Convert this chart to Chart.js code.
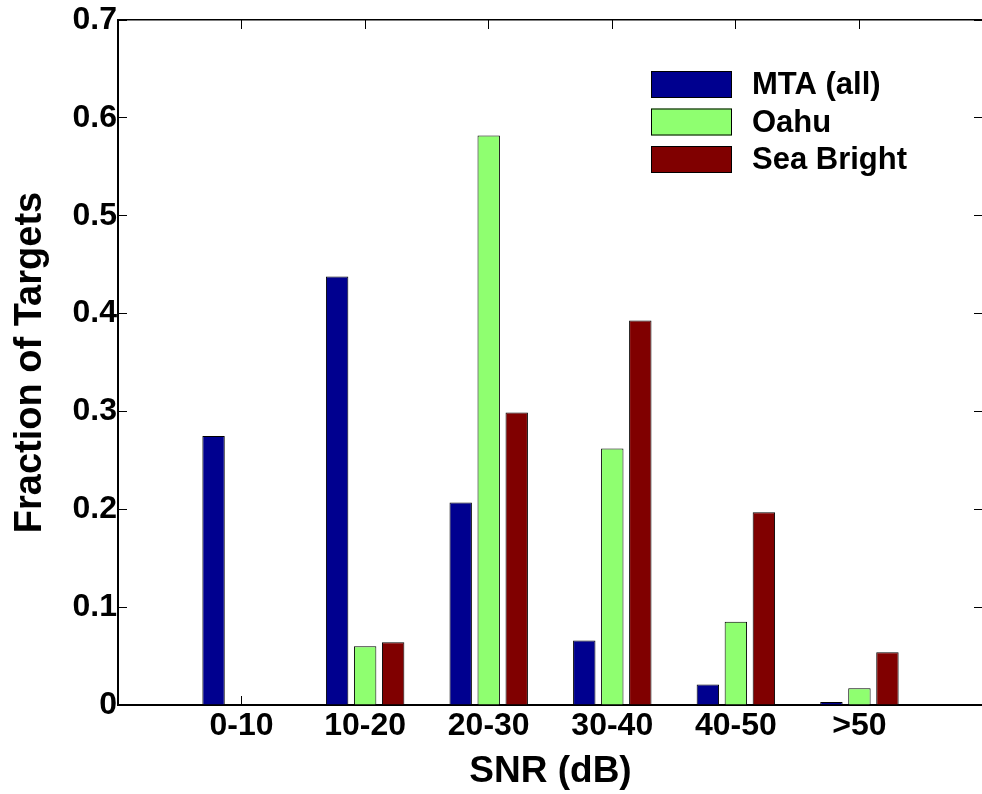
<!DOCTYPE html>
<html>
<head>
<meta charset="utf-8">
<script src="https://cdn.jsdelivr.net/npm/chart.js@4/dist/chart.umd.min.js"></script>
<style>
  html, body { margin: 0; padding: 0; background: #fff; overflow: hidden; }
  #wrap { width: 990px; height: 794px; }
</style>
</head>
<body>
<div id="wrap"><canvas id="c" width="990" height="794"></canvas></div>
<script>
const categories = ['0-10', '10-20', '20-30', '30-40', '40-50', '>50'];
const mtaAll     = [0.275, 0.438, 0.207, 0.066, 0.021, 0.003];
const oahu       = [0,     0.060, 0.582, 0.262, 0.085, 0.017];
const seaBright  = [0,     0.064, 0.299, 0.393, 0.197, 0.054];
const yTicks     = [0, 0.1, 0.2, 0.3, 0.4, 0.5, 0.6, 0.7];

const seriesNames  = ['MTA (all)', 'Oahu', 'Sea Bright'];
const seriesColors = ['#00008f', '#8fff70', '#800000'];
const seriesValues = [mtaAll, oahu, seaBright];

const FONT = '"Liberation Sans", Arial, Helvetica, sans-serif';

const datasets = seriesValues.map((vals, s) => ({
  label: seriesNames[s],
  data: vals.map((v, i) => ({ x: i + 1, y: v })),
  backgroundColor: seriesColors[s],
  borderColor: '#000',
  borderWidth: 1,
  categoryPercentage: 0.68,
  barPercentage: 0.8,
  xAxisID: 'x',
  yAxisID: 'y'
}));

const legendPlugin = {
  id: 'boxLegend',
  afterDraw(chart) {
    const ctx = chart.ctx;
    ctx.save();
    const bx = 651, bw = 81, bh = 27, tops = [71, 108.5, 146];
    chart.data.datasets.forEach((ds, i) => {
      const y = tops[i];
      ctx.fillStyle = ds.backgroundColor;
      ctx.fillRect(bx, y, bw, bh);
      ctx.strokeStyle = '#000';
      ctx.lineWidth = 1;
      ctx.strokeRect(bx + 0.5, y + 0.5, bw - 1, bh - 1);
      ctx.fillStyle = '#000';
      ctx.font = 'bold 31px ' + FONT;
      ctx.textBaseline = 'middle';
      ctx.textAlign = 'left';
      ctx.fillText(ds.label, 752, y + bh / 2 + 1);
    });
    ctx.restore();
  }
};

function noPad(scale) {
  scale.paddingTop = 0; scale.paddingBottom = 0;
  scale.paddingLeft = 0; scale.paddingRight = 0;
}

new Chart(document.getElementById('c'), {
  type: 'bar',
  data: { datasets },
  plugins: [legendPlugin],
  options: {
    responsive: false,
    animation: false,
    events: [],
    layout: { padding: 0 },
    plugins: { legend: { display: false }, tooltip: { enabled: false } },
    scales: {
      x: {
        type: 'linear',
        position: 'bottom',
        min: 0, max: 7,
        offset: false,
        afterBuildTicks(scale) {
          scale.ticks = categories.map((c, i) => ({ value: i + 1 }));
        },
        ticks: {
          callback: (v) => categories[v - 1] !== undefined ? categories[v - 1] : '',
          color: '#000',
          font: { family: FONT, size: 32, weight: 'bold' },
          padding: 11,
          maxRotation: 0,
          autoSkip: false
        },
        grid: { offset: false, drawOnChartArea: false, tickLength: -9, color: '#000', lineWidth: 1 },
        border: { display: true, color: '#000', width: 2 },
        title: {
          display: true, text: 'SNR (dB)', color: '#000',
          font: { family: FONT, size: 37, weight: 'bold', lineHeight: 1.2 },
          padding: { top: 0, bottom: 0 }
        },
        afterFit(scale) { scale.height = 89; noPad(scale); }
      },
      x2: {
        type: 'linear',
        position: 'top',
        min: 0, max: 7,
        offset: false,
        afterBuildTicks(scale) {
          scale.ticks = categories.map((c, i) => ({ value: i + 1 }));
        },
        ticks: { display: false },
        grid: { offset: false, drawOnChartArea: false, tickLength: -9, color: '#000', lineWidth: 1 },
        border: { display: true, color: '#000', width: 1.5 },
        afterFit(scale) { scale.height = 20; noPad(scale); }
      },
      y: {
        type: 'linear',
        position: 'left',
        min: 0, max: 0.7,
        afterBuildTicks(scale) {
          scale.ticks = yTicks.map(v => ({ value: v }));
        },
        ticks: {
          callback: (v) => String(Math.round(v * 10) / 10),
          color: '#000',
          font: { family: FONT, size: 32, weight: 'bold' },
          padding: 10
        },
        grid: { drawOnChartArea: false, tickLength: -9, color: '#000', lineWidth: 1 },
        border: { display: true, color: '#000', width: 2 },
        title: {
          display: true, text: 'Fraction of Targets', color: '#000',
          font: { family: FONT, size: 38, weight: 'bold', lineHeight: 1.2 },
          padding: { top: 8, bottom: 0 }
        },
        afterFit(scale) { scale.width = 118; noPad(scale); }
      },
      y2: {
        type: 'linear',
        position: 'right',
        min: 0, max: 0.7,
        afterBuildTicks(scale) {
          scale.ticks = yTicks.map(v => ({ value: v }));
        },
        ticks: { display: false },
        grid: { drawOnChartArea: false, tickLength: -9, color: '#000', lineWidth: 1 },
        border: { display: true, color: '#000', width: 1.5 },
        afterFit(scale) { scale.width = 7; noPad(scale); }
      }
    }
  }
});
</script>
</body>
</html>
